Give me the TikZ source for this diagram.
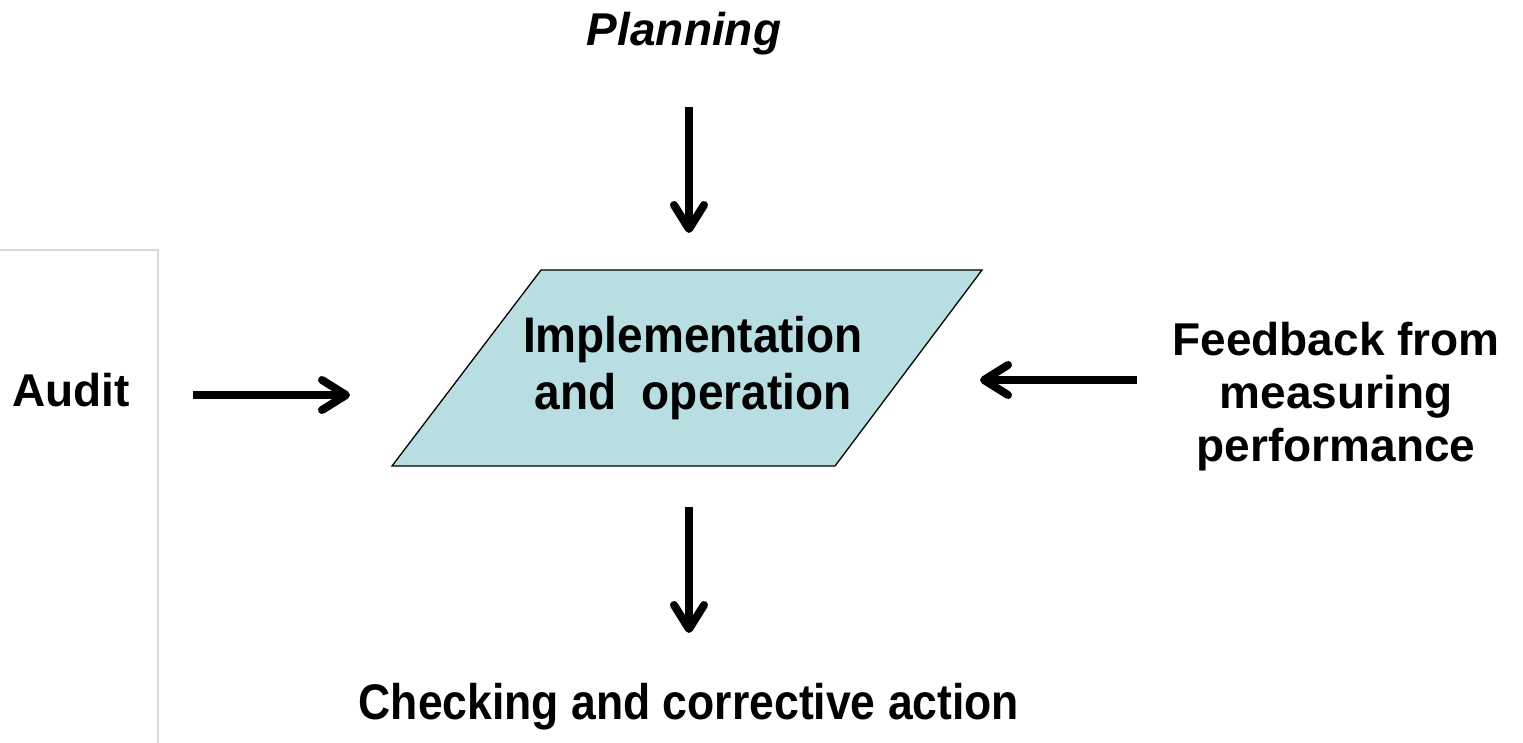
\documentclass[tikz,border=0pt]{standalone}
\usepackage{fontspec}
\setmainfont{Liberation Sans}
\newfontfamily\narrowfont[FakeStretch=0.92]{Liberation Sans}
\newfontfamily\narrowerfont[FakeStretch=0.89]{Liberation Sans}
\usetikzlibrary{arrows.meta}
\definecolor{boxfill}{RGB}{185,222,226}
\definecolor{panelgray}{RGB}{216,216,216}
\tikzset{
  bigarrow/.style={line width=8pt, -{Straight Barb[length=24pt,width=30pt,line cap=round,line join=round]}},
  lbl/.style={font=\fontsize{46}{53}\selectfont\bfseries, inner sep=0pt, anchor=base, align=center},
}
\begin{document}
\begin{tikzpicture}[x=1pt,y=-1pt]
\useasboundingbox (0,0) rectangle (1523,743);
% gray panel at left
\draw[panelgray, line width=2.5pt] (0,250) -- (158,250) -- (158,745);
% parallelogram
\draw[fill=boxfill, line width=1.3pt] (541,270) -- (982,270) -- (835,466) -- (392,466) -- cycle;
\node[lbl, font=\fontsize{50}{57}\selectfont\bfseries\narrowfont] (impl) at (693,409) {Implementation\\and~~operation};
% labels
\node[lbl, font=\fontsize{46}{53}\selectfont\bfseries\itshape] (plan) at (684,46) {Planning};
\node[lbl] (audit) at (71,406) {Audit};
\node[lbl] (feed) at (1336,461) {Feedback from\\measuring\\performance};
\node[lbl, font=\fontsize{50}{57}\selectfont\bfseries\narrowerfont] (check) at (689,719) {Checking and corrective action};
% arrows
\coordinate (pa) at (689,107); \coordinate (pb) at (689,233);
\coordinate (ba) at (689,507); \coordinate (bb) at (689,633);
\coordinate (aa) at (193,395); \coordinate (ab) at (350,395);
\coordinate (fa) at (1137,380); \coordinate (fb) at (980,380);
\draw[bigarrow] (pa) -- (pb);
\draw[bigarrow] (ba) -- (bb);
\draw[bigarrow] (aa) -- (ab);
\draw[bigarrow] (fa) -- (fb);
\end{tikzpicture}
\end{document}
